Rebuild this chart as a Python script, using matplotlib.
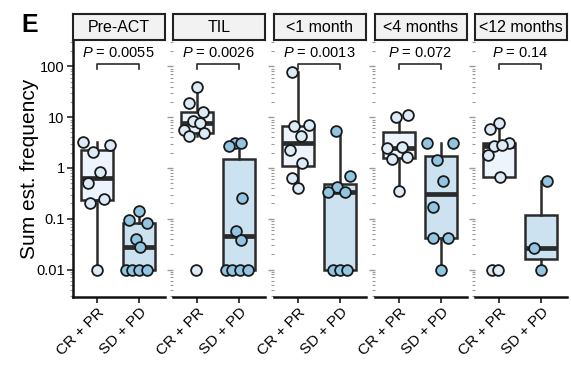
import matplotlib
matplotlib.use("Agg")
import matplotlib.pyplot as plt
import numpy as np
from matplotlib import cbook
from matplotlib.ticker import LogLocator, FixedLocator, FixedFormatter, NullFormatter

plt.rcParams['font.family'] = ['Liberation Sans', 'DejaVu Sans']
plt.rcParams['mathtext.fontset'] = 'custom'
plt.rcParams['mathtext.it'] = 'Liberation Sans:italic'
plt.rcParams['mathtext.rm'] = 'Liberation Sans'

panels = ["Pre-ACT", "TIL", "<1 month", "<4 months", "<12 months"]
groups = ["CR + PR", "SD + PD"]
p_values = ["0.0055", "0.0026", "0.0013", "0.072", "0.14"]

# CR + PR values and horizontal jitter, per panel
cr_vals = [
    [3.3, 2.1, 2.9, 0.82, 0.50, 0.20, 0.245, 0.01],
    [39, 18.9, 12.4, 8.6, 7.6, 5.6, 4.3, 4.8, 0.01],
    [77, 6.7, 7.0, 4.3, 2.26, 1.27, 0.64, 0.41],
    [10, 11.1, 2.5, 2.63, 1.48, 1.62, 0.35],
    [7.6, 5.8, 2.7, 3.15, 2.8, 1.8, 0.65, 0.01, 0.01],
]
cr_jit = [
    [-0.33, -0.10, 0.30, 0.07, -0.22, -0.16, 0.16, 0.0],
    [0.0, -0.18, 0.14, -0.10, 0.08, -0.31, -0.19, 0.17, -0.02],
    [-0.15, -0.10, 0.26, 0.08, -0.20, 0.10, -0.13, 0.01],
    [-0.08, 0.22, -0.28, 0.08, -0.16, 0.20, 0.0],
    [0.0, -0.21, -0.11, 0.24, 0.08, -0.25, 0.02, -0.16, -0.03],
]
# SD + PD values and horizontal jitter, per panel
sd_vals = [
    [0.143, 0.094, 0.083, 0.040, 0.028, 0.01, 0.01, 0.01, 0.01],
    [3.15, 3.15, 2.75, 0.26, 0.057, 0.038, 0.01, 0.01, 0.01, 0.01],
    [5.4, 0.70, 0.43, 0.33, 0.33, 0.01, 0.01, 0.01],
    [3.15, 3.07, 1.44, 0.56, 0.173, 0.041, 0.042, 0.01],
    [0.55, 0.026, 0.01],
]
sd_jit = [
    [0.01, -0.23, 0.18, -0.06, 0.02, -0.31, -0.17, 0.0, 0.18],
    [-0.10, 0.06, -0.24, 0.08, -0.06, 0.06, -0.32, -0.16, 0.02, 0.21],
    [-0.10, 0.24, -0.08, -0.28, 0.12, -0.17, 0.0, 0.17],
    [-0.34, 0.28, -0.10, 0.04, -0.18, -0.18, 0.16, 0.0],
    [0.14, -0.16, 0.0],
]

box_fill = ["#EDF4FB", "#CCE2F1"]
pt_fill = ["#DDEBF7", "#92C5E2"]
dark = "#2b2b2b"

fig = plt.figure(figsize=(5.71, 3.67), dpi=100)
W, H = 571.0, 367.0
lefts = [73, 173, 274, 375, 475]
pw = 92
ax_top, ax_bot = 40, 297
strip_top = 14

for i, name in enumerate(panels):
    ax = fig.add_axes([lefts[i] / W, 1 - ax_bot / H, pw / W, (ax_bot - ax_top) / H])
    ax.set_yscale('log')

    # box stats in log space (as ggplot does with a log10 scale)
    stats = []
    for vals in (cr_vals[i], sd_vals[i]):
        s = cbook.boxplot_stats(np.log10(vals), whis=1.5)[0]
        for k in ('med', 'q1', 'q3', 'whislo', 'whishi'):
            s[k] = 10 ** s[k]
        s['fliers'] = []
        stats.append(s)
    bp = ax.bxp(stats, positions=[1, 2], widths=0.75, patch_artist=True,
                showfliers=False, showcaps=False,
                boxprops=dict(edgecolor=dark, linewidth=1.8),
                medianprops=dict(color=dark, linewidth=3.4),
                whiskerprops=dict(color=dark, linewidth=1.8))
    for patch, c in zip(bp['boxes'], box_fill):
        patch.set_facecolor(c)

    for g, (vals, jit) in enumerate(((cr_vals[i], cr_jit[i]), (sd_vals[i], sd_jit[i]))):
        ax.scatter(np.array(jit) + g + 1, vals, s=60, facecolor=pt_fill[g],
                   edgecolor="#1a1a1a", linewidth=1.3, zorder=4)

    # p-value bracket
    ax.plot([1, 1, 2, 2], [90, 111, 111, 90], color=dark, lw=1.2)
    ax.text(1.5, 180, r"$P$ = " + p_values[i], ha='center', va='center', fontsize=10.5)

    ax.set_xlim(0.43, 2.62)
    ax.set_ylim(10 ** -2.54, 10 ** 2.52)
    ax.set_xticks([1, 2])
    ax.set_xticklabels(groups, rotation=45, ha='right', rotation_mode='anchor', fontsize=11)
    ax.yaxis.set_major_locator(FixedLocator([0.01, 0.1, 1, 10, 100]))
    ax.yaxis.set_minor_locator(LogLocator(base=10, subs=np.arange(2, 10), numticks=20))
    ax.yaxis.set_minor_formatter(NullFormatter())
    ax.tick_params(axis='x', length=4, width=1.3, color=dark, pad=2)
    ax.tick_params(axis='y', which='minor', length=2.5, width=0.8, color="#9a9a9a")
    for side in ('top', 'right'):
        ax.spines[side].set_visible(False)
    ax.spines['bottom'].set_linewidth(1.8)
    ax.spines['bottom'].set_color("#111111")
    if i == 0:
        ax.yaxis.set_major_formatter(FixedFormatter(["0.01", "0.1", "1", "10", "100"]))
        ax.tick_params(axis='y', which='major', length=4, width=1.2, color=dark, labelsize=10.5, pad=2)
        ax.spines['left'].set_linewidth(1.8)
        ax.spines['left'].set_color("#111111")
        ax.set_ylabel("Sum est. frequency", fontsize=15)
        ax.yaxis.set_label_coords(-0.37, 0.5)
    else:
        ax.spines['left'].set_visible(False)
        ax.tick_params(axis='y', which='major', length=4, width=1.0, color="#9a9a9a", labelleft=False)

    # strip header
    sx = fig.add_axes([lefts[i] / W, 1 - ax_top / H, pw / W, (ax_top - strip_top) / H])
    sx.set_facecolor("#F2F2F2")
    sx.set_xticks([])
    sx.set_yticks([])
    for sp in sx.spines.values():
        sp.set_linewidth(1.5)
        sp.set_color("#222222")
    sx.text(0.5, 0.47, name, ha='center', va='center', fontsize=11.5, transform=sx.transAxes)

fig.text(30 / W, 1 - 25 / H, "E", fontsize=18, fontweight='bold', ha='center', va='center')

fig.savefig("out.png", dpi=100)
